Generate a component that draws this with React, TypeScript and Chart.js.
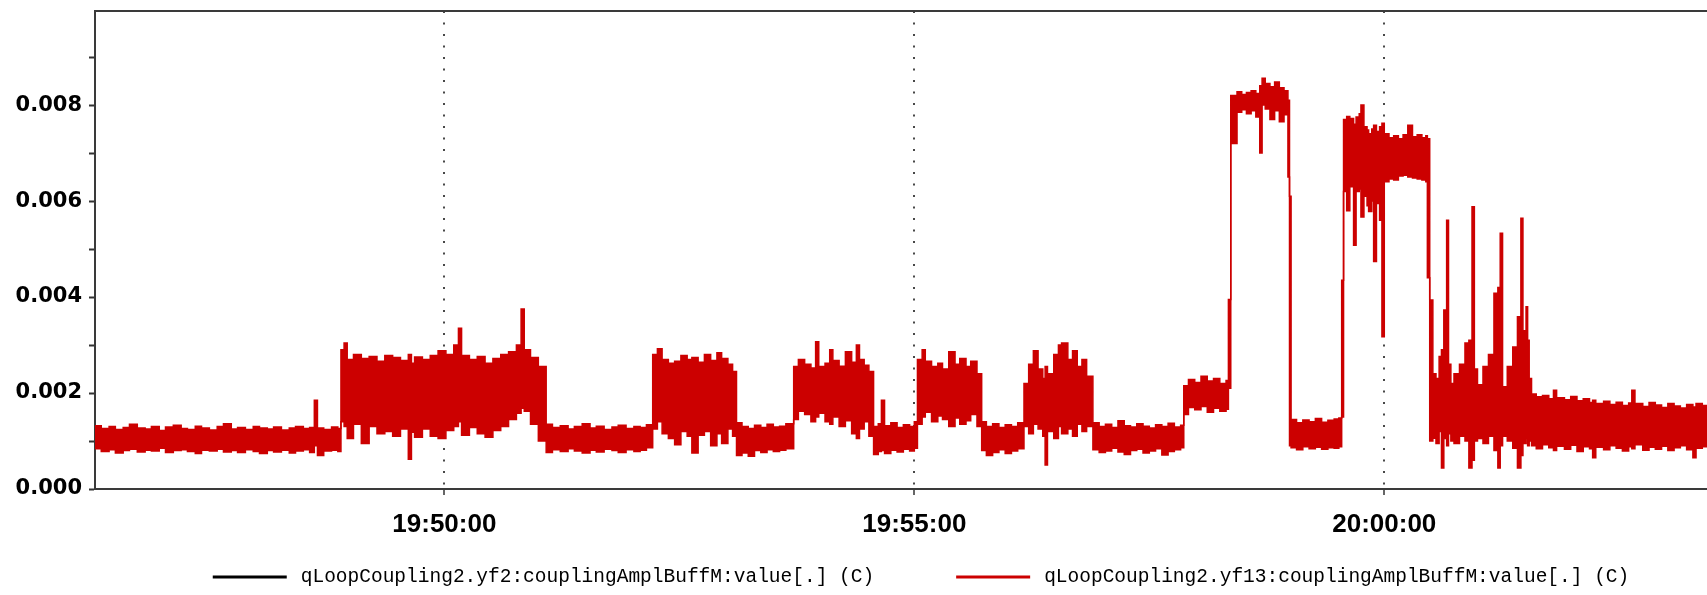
import React, { useEffect, useRef } from "react";
import { Chart, registerables } from "chart.js";

Chart.register(...registerables);

// x values: seconds after 19:00:00
const xMin = 2777;
const xMax = 3806;
const xTickValues = [3000, 3300, 3600];

const yMax = 0.00996;
const yTickValues = [0, 0.001, 0.002, 0.003, 0.004, 0.005, 0.006, 0.007, 0.008, 0.009];
const yTickLabels = ["0.000", "", "0.002", "", "0.004", "", "0.006", "", "0.008", ""];

const seriesNames = [
  "qLoopCoupling2.yf2:couplingAmplBuffM:value[.] (C)",
  "qLoopCoupling2.yf13:couplingAmplBuffM:value[.] (C)",
];
const seriesColors = ["#000000", "#cc0000"];

// yf2 series: nothing visible in the plot
const yf2Times: number[] = [];
const yf2Values: number[] = [];

// yf13 series: sample times (s after 19:00:00), upper and lower envelope of the noisy trace (x 1e-3)
const yf13Times = [
  2777, 2781, 2786, 2790, 2795, 2799, 2804, 2809, 2813, 2818, 2822, 2827, 2832, 2836, 2841, 2845, 2850, 2855, 2859, 2864,
  2868, 2873, 2878, 2882, 2887, 2891, 2896, 2901, 2905, 2910, 2914, 2917, 2919, 2923, 2928, 2932,
  2934, 2936, 2938, 2942, 2947, 2952, 2957, 2962, 2967, 2972, 2977, 2979, 2981, 2986, 2991, 2996, 3001, 3006, 3009, 3011,
  3016, 3021, 3026, 3031, 3036, 3041, 3046, 3049, 3051, 3055, 3060,
  3065, 3069, 3074, 3079, 3083, 3088, 3093, 3097, 3102, 3107, 3111, 3116, 3121, 3125, 3129,
  3133, 3136, 3139, 3143, 3147, 3151, 3155, 3158, 3162, 3166, 3170, 3174, 3177, 3181, 3184,
  3186.5, 3190, 3194, 3198, 3202, 3206, 3210, 3214, 3218,
  3223, 3226, 3230, 3234, 3237, 3239, 3243, 3246, 3248, 3252, 3256, 3260, 3263, 3265, 3268, 3271,
  3274, 3277, 3279, 3281, 3285, 3289, 3293, 3297, 3300,
  3302, 3305, 3307, 3311, 3315, 3318, 3322, 3326, 3329, 3333, 3336, 3340,
  3343, 3346, 3350, 3354, 3358, 3362, 3366,
  3370, 3373, 3376, 3379, 3382, 3383.5, 3385, 3389, 3392, 3394, 3398, 3401, 3404, 3407, 3410,
  3414, 3418, 3422, 3426, 3430, 3434, 3438, 3442, 3446, 3450, 3454, 3458, 3462, 3466, 3470,
  3472, 3475, 3479, 3483, 3487, 3491, 3495, 3499,
  3500.5,
  3502, 3506, 3509, 3512, 3515, 3518, 3520.5, 3522, 3524, 3527, 3530, 3533, 3536,
  3538.5, 3539.5,
  3540.5, 3544, 3548, 3552, 3556, 3560, 3564, 3568, 3571,
  3572.8,
  3574, 3576, 3578, 3580.4, 3582, 3584, 3585.1, 3587, 3589, 3590, 3592, 3593.2, 3595, 3597, 3598.5, 3600, 3603, 3606, 3609, 3612,
  3615, 3618, 3621, 3624, 3626.5,
  3627.5,
  3629, 3631, 3633, 3635, 3636.5, 3638, 3639.8, 3641, 3642.5, 3644.5, 3648, 3651.5, 3654, 3656, 3657.5, 3659.5, 3663, 3666.5, 3670, 3672.5,
  3674, 3675.5, 3678.5, 3682, 3685, 3687.2, 3688.5, 3690.5, 3691.5, 3692.5,
  3694, 3697, 3701, 3705, 3708, 3710, 3715, 3719, 3723, 3727, 3731, 3733, 3735, 3740, 3744, 3748, 3752, 3756, 3758, 3760,
  3765, 3769, 3773, 3777, 3781, 3785, 3789, 3793, 3797, 3799, 3803, 3806,
];

const yf13UpperE3 = [
  1.32, 1.26, 1.30, 1.24, 1.28, 1.35, 1.27, 1.25, 1.30, 1.22, 1.29, 1.33, 1.26, 1.24, 1.31, 1.27, 1.23, 1.30, 1.36, 1.25,
  1.28, 1.24, 1.30, 1.27, 1.25, 1.29, 1.23, 1.27, 1.30, 1.26, 1.28, 1.85, 1.27, 1.24, 1.29, 1.26,
  2.90, 3.04, 2.70, 2.80, 2.72, 2.76, 2.66, 2.78, 2.74, 2.68, 2.80, 2.62, 2.75, 2.70, 2.78, 2.88, 2.80, 3.00, 3.35, 2.78,
  2.70, 2.76, 2.62, 2.72, 2.80, 2.86, 3.00, 3.75, 2.90, 2.74, 2.55,
  1.35, 1.28, 1.32, 1.25, 1.30, 1.36, 1.27, 1.31, 1.24, 1.29, 1.33, 1.26, 1.30, 1.28, 1.34,
  2.80, 2.92, 2.70, 2.62, 2.66, 2.78, 2.70, 2.74, 2.64, 2.80, 2.68, 2.84, 2.72, 2.60, 2.45,
  1.38, 1.30, 1.26, 1.33, 1.28, 1.35, 1.29, 1.31, 1.36,
  2.55, 2.70, 2.60, 2.52, 3.07, 2.55, 2.62, 2.90, 2.68, 2.56, 2.86, 2.64, 3.00, 2.70, 2.58, 2.45,
  1.30, 1.36, 1.85, 1.32, 1.38, 1.28, 1.34, 1.30, 1.40,
  2.70, 2.90, 2.66, 2.55, 2.62, 2.50, 2.86, 2.60, 2.72, 2.55, 2.66, 2.40,
  1.40, 1.30, 1.36, 1.28, 1.34, 1.30, 1.38,
  2.20, 2.60, 2.88, 2.50, 2.30, 2.55, 2.40, 2.80, 3.00, 3.04, 2.70, 2.88, 2.55, 2.70, 2.35,
  1.38, 1.30, 1.35, 1.28, 1.42, 1.32, 1.29, 1.36, 1.31, 1.27, 1.34, 1.30, 1.37, 1.29, 1.33,
  2.15, 2.28, 2.22, 2.35, 2.25, 2.30, 2.20, 2.26,
  3.95,
  8.20, 8.28, 8.22, 8.26, 8.30, 8.24, 8.40, 8.56, 8.45, 8.38, 8.48, 8.36, 8.30,
  8.10, 6.10,
  1.45, 1.38, 1.44, 1.40, 1.47, 1.39, 1.43, 1.46, 1.48,
  4.35,
  7.70, 7.76, 7.72, 7.60, 7.75, 7.82, 8.00, 7.55, 7.48, 7.40, 7.50, 7.58, 7.45, 7.55, 7.62, 7.40, 7.32, 7.36, 7.30, 7.38,
  7.58, 7.34, 7.38, 7.32, 7.36,
  7.30,
  3.94, 2.40, 2.30, 2.76, 2.90, 3.73, 5.60, 2.60, 2.20, 2.40, 2.60, 3.04, 3.10, 5.88, 2.50, 2.17, 2.55, 2.80, 4.08, 4.20,
  5.33, 2.13, 2.55, 2.96, 3.59, 5.64, 3.30, 3.80, 3.10, 2.30,
  1.98, 1.92, 1.95, 1.88, 2.06, 1.90, 1.86, 1.93, 1.84, 1.88, 1.80, 1.85, 1.78, 1.83, 1.76, 1.81, 1.74, 1.79, 2.06, 1.78,
  1.72, 1.80, 1.75, 1.70, 1.78, 1.73, 1.69, 1.76, 1.71, 1.78, 1.74, 1.74,
];

const yf13LowerE3 = [
  0.84, 0.78, 0.82, 0.75, 0.80, 0.83, 0.77, 0.81, 0.79, 0.85, 0.76, 0.80, 0.82, 0.78, 0.74, 0.81, 0.79, 0.83, 0.77, 0.80,
  0.76, 0.82, 0.78, 0.74, 0.80, 0.77, 0.81, 0.75, 0.79, 0.82, 0.76, 0.90, 0.70, 0.79, 0.81, 0.78,
  1.40, 1.30, 1.05, 1.35, 0.95, 1.30, 1.15, 1.20, 1.10, 1.25, 0.62, 1.18, 1.08, 1.25, 1.10, 1.05, 1.22, 1.30, 1.40, 1.12,
  1.28, 1.15, 1.08, 1.22, 1.30, 1.45, 1.58, 1.68, 1.62, 1.35, 1.00,
  0.76, 0.82, 0.78, 0.84, 0.79, 0.75, 0.81, 0.77, 0.83, 0.80, 0.76, 0.82, 0.78, 0.81, 0.86,
  1.25, 1.40, 1.15, 1.05, 0.92, 1.20, 1.10, 0.75, 1.12, 1.20, 0.90, 1.15, 0.95, 1.25, 1.10,
  0.70, 0.75, 0.68, 0.80, 0.76, 0.82, 0.78, 0.81, 0.84,
  1.45, 1.62, 1.55, 1.40, 1.50, 1.58, 1.40, 1.35, 1.50, 1.30, 1.42, 1.15, 1.05, 1.25, 1.40, 1.10,
  0.72, 0.78, 0.80, 0.74, 0.81, 0.77, 0.83, 0.79, 0.85,
  1.35, 1.50, 1.60, 1.40, 1.52, 1.45, 1.30, 1.48, 1.35, 1.42, 1.55, 1.30,
  0.80, 0.70, 0.76, 0.82, 0.74, 0.79, 0.84,
  1.30, 1.15, 1.35, 1.25, 1.10, 0.50, 1.20, 1.05, 1.30, 1.15, 1.25, 1.10, 1.35, 1.20, 1.30,
  0.82, 0.76, 0.79, 0.85, 0.77, 0.72, 0.80, 0.83, 0.75, 0.79, 0.84, 0.71, 0.78, 0.82, 0.86,
  1.55, 1.70, 1.65, 1.72, 1.60, 1.68, 1.62, 1.66,
  2.10,
  7.20, 7.85, 7.90, 7.82, 7.88, 7.75, 7.00, 8.00, 7.92, 7.70, 7.88, 7.65, 7.80,
  6.50, 0.90,
  0.86, 0.82, 0.88, 0.84, 0.87, 0.83, 0.86, 0.85, 0.88,
  1.50,
  6.20, 5.80, 6.30, 5.08, 6.20, 6.25, 5.67, 6.10, 5.90, 5.78, 6.00, 4.74, 5.95, 5.60, 3.17, 6.40, 6.46, 6.44, 6.52, 6.54,
  6.50, 6.48, 6.46, 6.44, 6.40,
  4.40,
  1.00, 1.06, 0.95, 1.20, 0.44, 1.05, 0.90, 1.15, 1.00, 0.95, 1.10, 1.00, 0.44, 0.60, 1.00, 1.05, 0.95, 1.10, 0.80, 0.44,
  0.90, 1.10, 1.00, 0.85, 0.44, 0.70, 0.95, 1.05, 0.90, 1.00,
  0.90, 0.84, 0.92, 0.86, 0.80, 0.89, 0.83, 0.91, 0.78, 0.88, 0.84, 0.65, 0.87, 0.82, 0.90, 0.85, 0.79, 0.88, 0.84, 0.92,
  0.81, 0.87, 0.83, 0.89, 0.80, 0.86, 0.90, 0.82, 0.65, 0.85, 0.88, 0.88,
];

function formatClock(sec: number): string {
  const total = 19 * 3600 + Math.round(sec);
  const h = Math.floor(total / 3600);
  const m = Math.floor((total % 3600) / 60);
  const s = total % 60;
  const p = (n: number) => String(n).padStart(2, "0");
  return `${p(h)}:${p(m)}:${p(s)}`;
}

const framePlugin = {
  id: "frameAndLegend",
  afterDraw(chart: any) {
    const ctx = chart.ctx as CanvasRenderingContext2D;
    const { left, right, top } = chart.chartArea;
    ctx.save();
    // top frame line
    ctx.strokeStyle = "#3a3a3a";
    ctx.lineWidth = 2;
    ctx.beginPath();
    ctx.moveTo(left, top);
    ctx.lineTo(right, top);
    ctx.stroke();

    // legend
    ctx.font = '19.5px "Liberation Mono", "DejaVu Sans Mono", monospace';
    ctx.textBaseline = "middle";
    ctx.textAlign = "left";
    const lineLen = 74;
    const lineGap = 14;
    const itemGap = 82;
    const widths = seriesNames.map((n) => lineLen + lineGap + ctx.measureText(n).width);
    const total = widths.reduce((a, b) => a + b, 0) + itemGap * (seriesNames.length - 1);
    let x = (left + right) / 2 + 20 - total / 2;
    const y = chart.height - 18;
    seriesNames.forEach((name, i) => {
      ctx.strokeStyle = seriesColors[i];
      ctx.lineWidth = 3;
      ctx.beginPath();
      ctx.moveTo(x, y);
      ctx.lineTo(x + lineLen, y);
      ctx.stroke();
      ctx.fillStyle = "#000";
      ctx.fillText(name, x + lineLen + lineGap, y);
      x += widths[i] + itemGap;
    });
    ctx.restore();
  },
};

export default function App() {
  const canvasRef = useRef<HTMLCanvasElement | null>(null);

  useEffect(() => {
    document.body.style.margin = "0";
    const canvas = canvasRef.current;
    if (!canvas) return;

    const upper = yf13Times.map((t, i) => ({ x: t, y: yf13UpperE3[i] / 1000 }));
    const lower = yf13Times.map((t, i) => ({ x: t, y: yf13LowerE3[i] / 1000 }));
    const yf2 = yf2Times.map((t, i) => ({ x: t, y: yf2Values[i] }));

    const red = seriesColors[1];
    const chart = new Chart(canvas, {
      type: "line",
      data: {
        datasets: [
          {
            label: seriesNames[0],
            data: yf2,
            borderColor: seriesColors[0],
            backgroundColor: seriesColors[0],
            borderWidth: 2,
            pointRadius: 0,
          },
          {
            label: seriesNames[1],
            data: upper,
            borderColor: red,
            backgroundColor: red,
            borderWidth: 1.5,
            pointRadius: 0,
            stepped: true,
            fill: "+1",
          },
          {
            label: "",
            data: lower,
            borderColor: red,
            backgroundColor: red,
            borderWidth: 1.5,
            pointRadius: 0,
            stepped: true,
            fill: false,
          },
        ],
      },
      options: {
        animation: false,
        responsive: true,
        maintainAspectRatio: false,
        layout: { padding: { top: 11, right: 0, bottom: 0, left: 0 } },
        plugins: {
          legend: { display: false },
          tooltip: { enabled: false },
        },
        scales: {
          x: {
            type: "linear",
            min: xMin,
            max: xMax,
            afterBuildTicks: (scale: any) => {
              scale.ticks = xTickValues.map((v) => ({ value: v }));
            },
            afterFit: (scale: any) => {
              scale.height = 106;
              scale.paddingLeft = 0;
              scale.paddingRight = 0;
            },
            ticks: {
              callback: (value: any) => formatClock(Number(value)),
              font: { family: '"Liberation Sans", Arial, sans-serif', size: 26, weight: "bold" },
              color: "#000",
              padding: 14,
              maxRotation: 0,
              autoSkip: false,
            },
            grid: {
              display: true,
              drawOnChartArea: true,
              drawTicks: true,
              tickLength: 6,
              color: "rgba(40,40,40,0.85)",
              lineWidth: 2,
              tickColor: "#333",
              tickWidth: 1.5,
              tickBorderDash: [],
            },
            border: { display: true, color: "#3a3a3a", width: 2, dash: [2, 9.5] },
          },
          y: {
            type: "linear",
            min: 0,
            max: yMax,
            afterBuildTicks: (scale: any) => {
              scale.ticks = yTickValues.map((v) => ({ value: v }));
            },
            afterFit: (scale: any) => {
              scale.width = 95;
              scale.paddingTop = 0;
              scale.paddingBottom = 0;
            },
            ticks: {
              callback: (_v: any, index: number) => yTickLabels[index],
              font: { family: '"DejaVu Sans", sans-serif', size: 21, weight: "bold" },
              color: "#000",
              padding: 7,
              autoSkip: false,
            },
            grid: {
              display: true,
              drawOnChartArea: false,
              drawTicks: true,
              tickLength: 6,
              tickColor: "#333",
              tickWidth: 2,
            },
            border: { display: true, color: "#3a3a3a", width: 2 },
          },
        },
      },
      plugins: [framePlugin],
    });

    return () => chart.destroy();
  }, []);

  return (
    <div style={{ width: 1707, height: 595, position: "relative" }}>
      <canvas ref={canvasRef} />
    </div>
  );
}
